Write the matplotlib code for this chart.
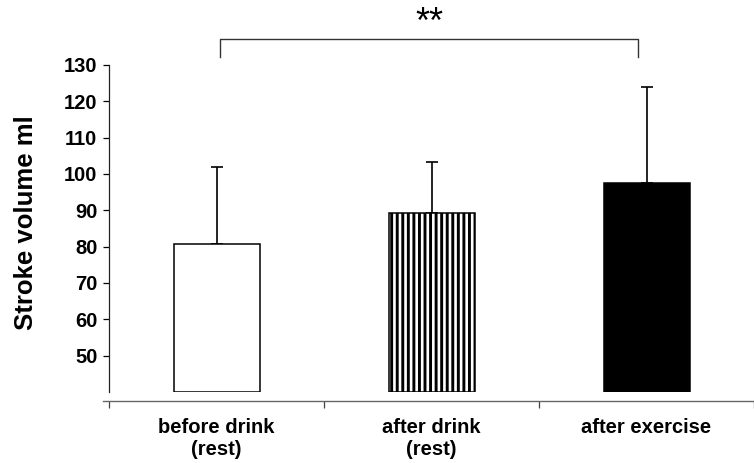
import matplotlib
matplotlib.use("Agg")
import matplotlib.pyplot as plt
import numpy as np

plt.rcParams['font.family'] = ['Liberation Sans', 'DejaVu Sans']
plt.rcParams['font.weight'] = 'bold'
plt.rcParams['xtick.labelsize'] = 14.5
plt.rcParams['ytick.labelsize'] = 14.5
plt.rcParams['hatch.linewidth'] = 2.1

# values
conditions = ["before drink\n(rest)", "after drink\n(rest)", "after exercise"]
stroke_volume = [80.6, 89.4, 97.4]
sd_upper = [21.4, 13.8, 26.5]
fills = ["white", "white", "black"]
hatches = [None, "|||", None]

fig = plt.figure(figsize=(7.54, 4.63), dpi=100)
ax = fig.add_axes([109 / 754, 1 - 392 / 463, 645 / 754, 327 / 463])

x = np.arange(len(conditions))
bottom = 40
bars = ax.bar(x, np.array(stroke_volume) - bottom, bottom=bottom, width=0.40,
              color=fills, edgecolor="black", linewidth=1.1, zorder=2)
for b, h in zip(bars, hatches):
    if h:
        b.set_hatch(h)
ax.errorbar(x, stroke_volume, yerr=[np.zeros(3), sd_upper], fmt="none",
            ecolor="black", elinewidth=1.2, capsize=4, capthick=1.2, zorder=1)

ax.set_xlim(-0.5, 2.459)
ax.set_ylim(40, 130)
ax.set_yticks(range(50, 131, 10))
ax.tick_params(axis="y", length=4.3, width=0.9, pad=4, colors="black")

ax.set_xticks(x, conditions)
ax.set_xticks(np.arange(-0.5, 3, 1.0), minor=True)
ax.tick_params(axis="x", which="major", length=0, pad=12)
ax.tick_params(axis="x", which="minor", length=5, width=0.9, color="#444")
for t in ax.get_xticklabels():
    t.set_linespacing(1.35)

for s in ["top", "right"]:
    ax.spines[s].set_visible(False)
ax.spines["left"].set_color("#222")
ax.spines["left"].set_linewidth(0.9)
ax.spines["bottom"].set_position(("outward", 6.5))
ax.spines["bottom"].set_color("#666")
ax.spines["bottom"].set_linewidth(1.0)
ax.spines["bottom"].set_bounds(-0.528, 2.5)

fig.text(26 / 754, 1 - 222.5 / 463, "Stroke volume ml", rotation=90,
         ha="center", va="center", fontsize=18.5, fontweight="bold")

# significance bracket between first and last condition
bx0, bx1 = x[0] + 0.016, x[2] - 0.04
ax.plot([bx0, bx0, bx1, bx1], [132.2, 137.2, 137.2, 132.2], color="#333",
        linewidth=1.0, clip_on=False)
ax.text((bx0 + bx1) / 2, 136.6, "**", ha="center", va="bottom", fontsize=26,
        fontweight="normal")

fig.savefig("out.png", dpi=100)
